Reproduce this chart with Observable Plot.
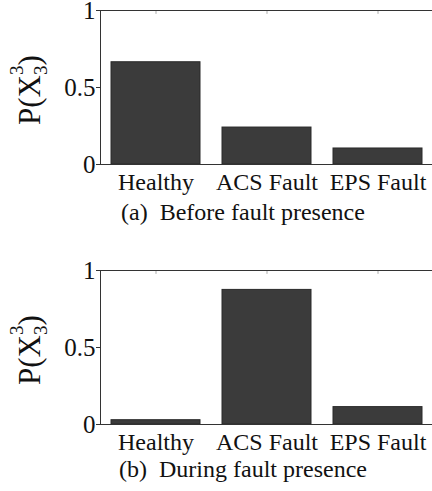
<!DOCTYPE html>
<html>
<head>
<meta charset="utf-8">
<script src="https://cdn.jsdelivr.net/npm/d3@7"></script>
<script src="https://cdn.jsdelivr.net/npm/@observablehq/plot@0.6"></script>
<style>
  html, body { margin: 0; padding: 0; background: #fff; overflow: hidden; }
  #wrap { position: relative; width: 432px; height: 491px; overflow: hidden; }
  .panel { position: absolute; left: 0; }
  .cap { position: absolute; left: 43px; width: 400px; text-align: center;
         font-family: 'Liberation Serif', serif; font-size: 24px; line-height: 24px; color: #111; }
</style>
</head>
<body>
<div id="wrap">
  <div class="panel" id="pa" style="top:-2px"></div>
  <div class="cap" style="top:200px">(a)&nbsp; Before fault presence</div>
  <div class="panel" id="pb" style="top:258px"></div>
  <div class="cap" style="top:457px">(b)&nbsp; During fault presence</div>
</div>
<script>
const categories = ["Healthy", "ACS Fault", "EPS Fault"];
const beforeFault = [0.664, 0.24, 0.104];
const duringFault = [0.028, 0.874, 0.113];
const yTicks = [0, 0.5, 1];
const yTickLabels = ["0", "0.5", "1"];
const serif = "'Liberation Serif', serif";

function panel(values) {
  const data = categories.map((c, i) => ({cat: c, p: values[i]}));
  const svg = Plot.plot({
    width: 432,
    height: 197,
    marginTop: 12,
    marginBottom: 31,
    marginLeft: 100,
    marginRight: -2,
    style: {fontFamily: serif, fontSize: "24px", color: "#111", background: "#fff", overflow: "visible"},
    x: {domain: categories, paddingInner: 0.196, paddingOuter: 0.09},
    y: {domain: [0, 1]},
    marks: [
      Plot.barY(data, {x: "cat", y: "p", fill: "#3b3b3b", stroke: "#2a2a2a", strokeWidth: 1}),
      Plot.ruleX(categories, {x: d => d, y1: 1, y2: 0.975, stroke: "#aaa", strokeWidth: 1}),
      Plot.frame({stroke: "#333", strokeWidth: 1}),
      Plot.axisX({anchor: "bottom", tickSize: 0, tickPadding: 8, label: null, fontSize: 24}),
      Plot.axisY({anchor: "left", ticks: yTicks, tickFormat: d => yTickLabels[yTicks.indexOf(d)], tickSize: 4, tickPadding: 1, label: null, fontSize: 25, stroke: "#333"})
    ]
  });
  // y-axis label P(X^3_3)
  const t = d3.select(svg).append("text")
    .attr("transform", "translate(40,127) rotate(-90)")
    .attr("text-anchor", "start")
    .attr("font-size", 31)
    .attr("fill", "#111");
  t.append("tspan").text("P(X");
  t.append("tspan").attr("font-size", 19).attr("dy", -17).text("3");
  t.append("tspan").attr("font-size", 19).attr("dx", -9.5).attr("dy", 24).text("3");
  t.append("tspan").attr("dy", -7).text(")");
  d3.select(svg).selectAll("text").style("font-family", serif);
  return svg;
}

document.getElementById("pa").appendChild(panel(beforeFault));
document.getElementById("pb").appendChild(panel(duringFault));
</script>
</body>
</html>
